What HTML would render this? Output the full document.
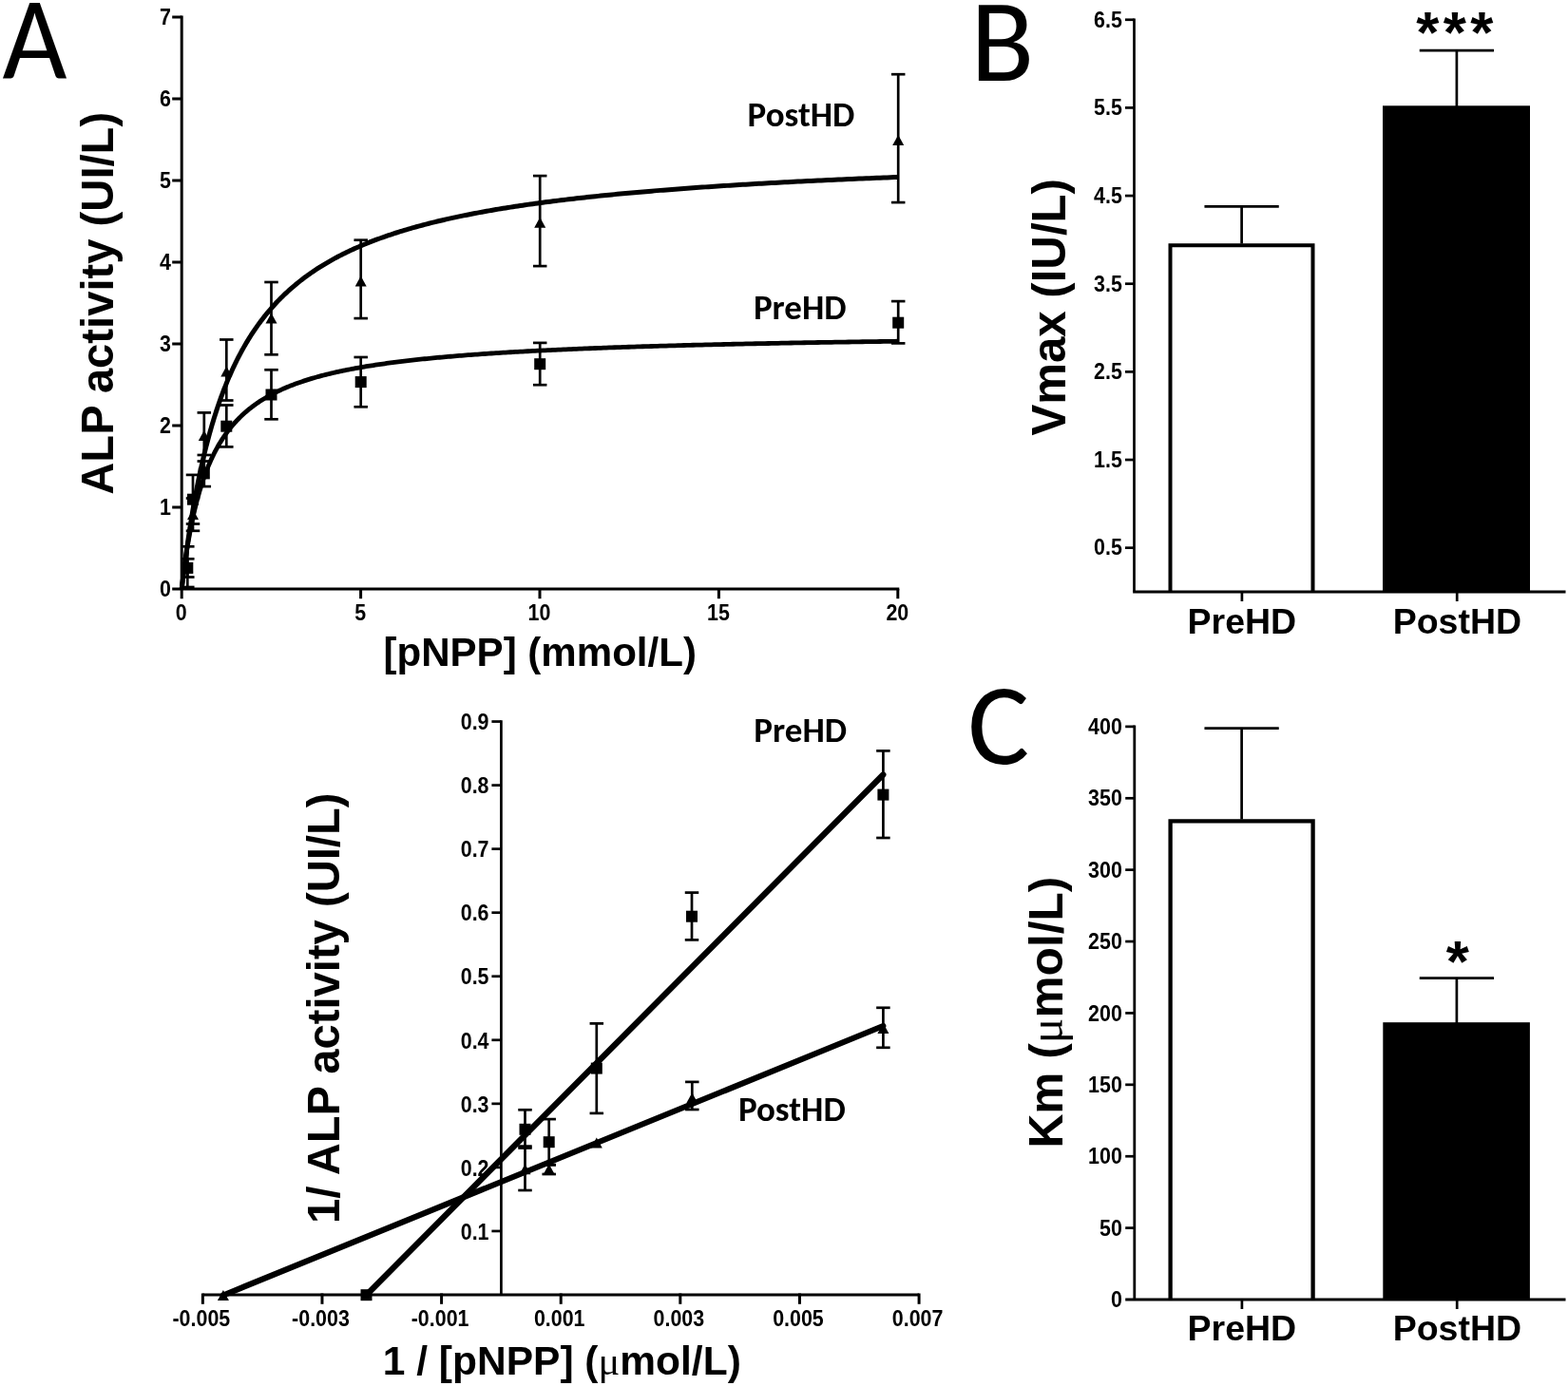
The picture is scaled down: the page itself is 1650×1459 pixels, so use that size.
<!DOCTYPE html>
<html><head><meta charset="utf-8"><title>ALP kinetics figure</title>
<style>html,body{margin:0;padding:0;background:#fff;overflow:hidden;}svg{display:block;}</style></head>
<body><svg width="1650" height="1459" viewBox="0 0 1650 1459">
<rect width="1650" height="1459" fill="#fff"/>
<text transform="translate(2.4,82.6) scale(0.955,1)" font-family="Carlito, Calibri, 'Liberation Sans', sans-serif" font-size="123" textLength="71.18" lengthAdjust="spacingAndGlyphs">A</text>
<text x="1021.20" y="84.60" font-family="Carlito, Calibri, 'Liberation Sans', sans-serif" font-size="123" font-weight="normal" text-anchor="start" textLength="66.91" lengthAdjust="spacingAndGlyphs">B</text>
<text x="1018.30" y="803.60" font-family="Carlito, Calibri, 'Liberation Sans', sans-serif" font-size="122" font-weight="normal" text-anchor="start" textLength="65.06" lengthAdjust="spacingAndGlyphs">C</text>
<line x1="191.20" y1="16.50" x2="191.20" y2="630.20" stroke="#000" stroke-width="3" stroke-linecap="butt"/>
<line x1="181.20" y1="620.00" x2="946.30" y2="620.00" stroke="#000" stroke-width="3" stroke-linecap="butt"/>
<line x1="181.20" y1="534.00" x2="191.20" y2="534.00" stroke="#000" stroke-width="3" stroke-linecap="butt"/>
<line x1="181.20" y1="448.00" x2="191.20" y2="448.00" stroke="#000" stroke-width="3" stroke-linecap="butt"/>
<line x1="181.20" y1="362.00" x2="191.20" y2="362.00" stroke="#000" stroke-width="3" stroke-linecap="butt"/>
<line x1="181.20" y1="276.00" x2="191.20" y2="276.00" stroke="#000" stroke-width="3" stroke-linecap="butt"/>
<line x1="181.20" y1="190.00" x2="191.20" y2="190.00" stroke="#000" stroke-width="3" stroke-linecap="butt"/>
<line x1="181.20" y1="104.00" x2="191.20" y2="104.00" stroke="#000" stroke-width="3" stroke-linecap="butt"/>
<line x1="181.20" y1="18.00" x2="191.20" y2="18.00" stroke="#000" stroke-width="3" stroke-linecap="butt"/>
<line x1="379.60" y1="620.00" x2="379.60" y2="630.20" stroke="#000" stroke-width="3" stroke-linecap="butt"/>
<line x1="568.00" y1="620.00" x2="568.00" y2="630.20" stroke="#000" stroke-width="3" stroke-linecap="butt"/>
<line x1="756.40" y1="620.00" x2="756.40" y2="630.20" stroke="#000" stroke-width="3" stroke-linecap="butt"/>
<line x1="944.80" y1="620.00" x2="944.80" y2="630.20" stroke="#000" stroke-width="3" stroke-linecap="butt"/>
<text transform="translate(180.00,627.70) scale(0.875,1)" font-family="'Liberation Sans', Arial, sans-serif" font-size="24.5" font-weight="bold" text-anchor="end">0</text>
<text transform="translate(180.00,541.70) scale(0.875,1)" font-family="'Liberation Sans', Arial, sans-serif" font-size="24.5" font-weight="bold" text-anchor="end">1</text>
<text transform="translate(180.00,455.70) scale(0.875,1)" font-family="'Liberation Sans', Arial, sans-serif" font-size="24.5" font-weight="bold" text-anchor="end">2</text>
<text transform="translate(180.00,369.70) scale(0.875,1)" font-family="'Liberation Sans', Arial, sans-serif" font-size="24.5" font-weight="bold" text-anchor="end">3</text>
<text transform="translate(180.00,283.70) scale(0.875,1)" font-family="'Liberation Sans', Arial, sans-serif" font-size="24.5" font-weight="bold" text-anchor="end">4</text>
<text transform="translate(180.00,197.70) scale(0.875,1)" font-family="'Liberation Sans', Arial, sans-serif" font-size="24.5" font-weight="bold" text-anchor="end">5</text>
<text transform="translate(180.00,111.70) scale(0.875,1)" font-family="'Liberation Sans', Arial, sans-serif" font-size="24.5" font-weight="bold" text-anchor="end">6</text>
<text transform="translate(180.00,25.70) scale(0.875,1)" font-family="'Liberation Sans', Arial, sans-serif" font-size="24.5" font-weight="bold" text-anchor="end">7</text>
<text transform="translate(190.70,653.00) scale(0.875,1)" font-family="'Liberation Sans', Arial, sans-serif" font-size="24.5" font-weight="bold" text-anchor="middle">0</text>
<text transform="translate(379.10,653.00) scale(0.875,1)" font-family="'Liberation Sans', Arial, sans-serif" font-size="24.5" font-weight="bold" text-anchor="middle">5</text>
<text transform="translate(567.50,653.00) scale(0.875,1)" font-family="'Liberation Sans', Arial, sans-serif" font-size="24.5" font-weight="bold" text-anchor="middle">10</text>
<text transform="translate(755.90,653.00) scale(0.875,1)" font-family="'Liberation Sans', Arial, sans-serif" font-size="24.5" font-weight="bold" text-anchor="middle">15</text>
<text transform="translate(944.30,653.00) scale(0.875,1)" font-family="'Liberation Sans', Arial, sans-serif" font-size="24.5" font-weight="bold" text-anchor="middle">20</text>
<text x="568.20" y="701.20" font-family="'Liberation Sans', Arial, sans-serif" font-size="42.5" font-weight="bold" text-anchor="middle" textLength="329.5" lengthAdjust="spacingAndGlyphs">[pNPP] (mmol/L)</text>
<text transform="translate(118.90,319.30) rotate(-90)" font-family="'Liberation Sans', Arial, sans-serif" font-size="47.2" font-weight="bold" text-anchor="middle">ALP activity (UI/L)</text>
<polyline points="191.20,620.00 191.20,619.96 191.22,619.84 191.24,619.64 191.28,619.35 191.32,618.99 191.37,618.54 191.43,618.02 191.50,617.42 191.58,616.74 191.67,615.98 191.77,615.14 191.88,614.23 192.00,613.25 192.12,612.19 192.26,611.05 192.41,609.85 192.56,608.57 192.73,607.22 192.90,605.81 193.08,604.33 193.28,602.78 193.48,601.17 193.69,599.49 193.91,597.76 194.14,595.97 194.38,594.11 194.63,592.21 194.89,590.24 195.16,588.23 195.44,586.16 195.73,584.04 196.02,581.88 196.33,579.67 196.64,577.42 196.97,575.12 197.30,572.79 197.65,570.41 198.00,568.00 198.36,565.55 198.74,563.07 199.12,560.55 199.51,558.01 199.91,555.44 200.32,552.84 200.74,550.22 201.17,547.57 201.60,544.90 202.05,542.21 202.51,539.50 202.97,536.78 203.45,534.04 203.94,531.29 204.43,528.52 204.93,525.74 205.45,522.95 205.97,520.16 206.50,517.36 207.04,514.55 207.60,511.73 208.16,508.92 208.73,506.10 209.31,503.28 209.89,500.46 210.49,497.64 211.10,494.83 211.72,492.02 212.34,489.21 212.98,486.41 213.62,483.61 214.28,480.82 214.94,478.04 215.62,475.27 216.30,472.50 216.99,469.75 217.69,467.01 218.40,464.28 219.13,461.56 219.86,458.86 220.60,456.16 221.34,453.49 222.10,450.82 222.87,448.17 223.65,445.54 224.43,442.92 225.23,440.32 226.04,437.74 226.85,435.17 227.67,432.62 228.51,430.09 229.35,427.58 230.20,425.08 231.07,422.60 231.94,420.15 232.82,417.71 233.71,415.29 234.61,412.88 235.52,410.50 236.43,408.14 237.36,405.80 238.30,403.48 239.25,401.17 240.20,398.89 241.17,396.63 242.14,394.39 243.13,392.17 244.12,389.97 245.12,387.78 246.14,385.62 247.16,383.48 248.19,381.36 249.23,379.26 250.28,377.18 251.34,375.12 252.41,373.08 253.49,371.07 254.58,369.07 255.68,367.09 256.78,365.13 257.90,363.19 259.02,361.27 260.16,359.36 261.30,357.48 262.46,355.62 263.62,353.78 264.79,351.95 265.98,350.15 267.17,348.36 268.37,346.60 269.58,344.85 270.80,343.12 272.03,341.41 273.27,339.71 274.52,338.04 275.77,336.38 277.04,334.74 278.32,333.12 279.60,331.51 280.90,329.92 282.20,328.35 283.52,326.80 284.84,325.26 286.17,323.74 287.51,322.24 288.87,320.75 290.23,319.28 291.60,317.83 292.98,316.39 294.37,314.96 295.77,313.56 297.17,312.16 298.59,310.79 300.02,309.43 301.46,308.08 302.90,306.75 304.36,305.43 305.82,304.12 307.30,302.84 308.78,301.56 310.27,300.30 311.78,299.05 313.29,297.82 314.81,296.60 316.34,295.39 317.88,294.20 319.43,293.02 320.99,291.85 322.56,290.70 324.14,289.55 325.72,288.42 327.32,287.31 328.93,286.20 330.54,285.11 332.17,284.03 333.80,282.96 335.44,281.90 337.10,280.86 338.76,279.82 340.43,278.80 342.11,277.78 343.80,276.78 345.50,275.79 347.21,274.81 348.93,273.84 350.66,272.88 352.40,271.93 354.15,271.00 355.90,270.07 357.67,269.15 359.45,268.24 361.23,267.34 363.03,266.45 364.83,265.57 366.64,264.70 368.47,263.84 370.30,262.99 372.14,262.14 373.99,261.31 375.85,260.48 377.72,259.67 379.60,258.86 381.49,258.06 383.39,257.27 385.29,256.48 387.21,255.71 389.14,254.94 391.07,254.18 393.02,253.43 394.97,252.69 396.94,251.95 398.91,251.23 400.89,250.51 402.89,249.79 404.89,249.09 406.90,248.39 408.92,247.70 410.95,247.01 412.99,246.33 415.04,245.66 417.10,245.00 419.16,244.34 421.24,243.69 423.33,243.05 425.42,242.41 427.53,241.78 429.64,241.16 431.77,240.54 433.90,239.93 436.04,239.32 438.20,238.72 440.36,238.13 442.53,237.54 444.71,236.96 446.90,236.38 449.10,235.81 451.31,235.24 453.53,234.68 455.76,234.13 457.99,233.58 460.24,233.04 462.50,232.50 464.76,231.96 467.04,231.44 469.32,230.91 471.61,230.40 473.92,229.88 476.23,229.38 478.55,228.87 480.88,228.37 483.22,227.88 485.57,227.39 487.93,226.91 490.30,226.43 492.68,225.95 495.07,225.48 497.47,225.02 499.87,224.55 502.29,224.10 504.72,223.64 507.15,223.19 509.60,222.75 512.05,222.31 514.51,221.87 516.99,221.44 519.47,221.01 521.96,220.59 524.46,220.16 526.97,219.75 529.49,219.33 532.02,218.93 534.56,218.52 537.11,218.12 539.66,217.72 542.23,217.32 544.81,216.93 547.39,216.55 549.99,216.16 552.59,215.78 555.21,215.40 557.83,215.03 560.46,214.66 563.11,214.29 565.76,213.93 568.42,213.56 571.09,213.21 573.77,212.85 576.46,212.50 579.16,212.15 581.87,211.81 584.58,211.46 587.31,211.12 590.05,210.79 592.79,210.45 595.55,210.12 598.31,209.80 601.09,209.47 603.87,209.15 606.66,208.83 609.47,208.51 612.28,208.20 615.10,207.89 617.93,207.58 620.77,207.27 623.62,206.97 626.48,206.67 629.35,206.37 632.23,206.07 635.11,205.78 638.01,205.49 640.92,205.20 643.83,204.91 646.76,204.63 649.69,204.34 652.63,204.07 655.59,203.79 658.55,203.51 661.52,203.24 664.50,202.97 667.49,202.70 670.49,202.44 673.50,202.17 676.52,201.91 679.55,201.65 682.59,201.39 685.64,201.14 688.69,200.88 691.76,200.63 694.84,200.38 697.92,200.14 701.02,199.89 704.12,199.65 707.23,199.41 710.36,199.17 713.49,198.93 716.63,198.69 719.78,198.46 722.94,198.23 726.11,198.00 729.29,197.77 732.48,197.54 735.68,197.32 738.88,197.09 742.10,196.87 745.33,196.65 748.56,196.43 751.81,196.22 755.06,196.00 758.33,195.79 761.60,195.58 764.88,195.37 768.17,195.16 771.48,194.95 774.79,194.75 778.11,194.54 781.44,194.34 784.78,194.14 788.13,193.94 791.48,193.74 794.85,193.55 798.23,193.35 801.62,193.16 805.01,192.97 808.42,192.78 811.83,192.59 815.26,192.40 818.69,192.21 822.13,192.03 825.59,191.84 829.05,191.66 832.52,191.48 836.00,191.30 839.49,191.12 842.99,190.95 846.50,190.77 850.02,190.60 853.54,190.42 857.08,190.25 860.63,190.08 864.18,189.91 867.75,189.74 871.32,189.58 874.91,189.41 878.50,189.25 882.11,189.08 885.72,188.92 889.34,188.76 892.97,188.60 896.61,188.44 900.26,188.28 903.92,188.12 907.59,187.97 911.27,187.81 914.96,187.66 918.65,187.51 922.36,187.36 926.08,187.21 929.80,187.06 933.54,186.91 937.28,186.76 941.04,186.61 944.80,186.47" fill="none" stroke="#000" stroke-width="5.0" stroke-linejoin="round"/>
<polyline points="191.20,620.00 191.20,619.96 191.22,619.83 191.24,619.63 191.28,619.34 191.32,618.97 191.37,618.51 191.43,617.98 191.50,617.37 191.58,616.68 191.67,615.91 191.77,615.07 191.88,614.15 192.00,613.16 192.12,612.10 192.26,610.97 192.41,609.77 192.56,608.51 192.73,607.18 192.90,605.79 193.08,604.35 193.28,602.84 193.48,601.29 193.69,599.68 193.91,598.02 194.14,596.31 194.38,594.56 194.63,592.77 194.89,590.93 195.16,589.06 195.44,587.15 195.73,585.21 196.02,583.24 196.33,581.24 196.64,579.21 196.97,577.16 197.30,575.09 197.65,573.00 198.00,570.89 198.36,568.76 198.74,566.62 199.12,564.47 199.51,562.32 199.91,560.15 200.32,557.98 200.74,555.80 201.17,553.62 201.60,551.44 202.05,549.26 202.51,547.08 202.97,544.91 203.45,542.74 203.94,540.57 204.43,538.42 204.93,536.27 205.45,534.13 205.97,532.00 206.50,529.88 207.04,527.77 207.60,525.68 208.16,523.60 208.73,521.54 209.31,519.49 209.89,517.45 210.49,515.44 211.10,513.44 211.72,511.45 212.34,509.49 212.98,507.54 213.62,505.61 214.28,503.71 214.94,501.82 215.62,499.95 216.30,498.10 216.99,496.27 217.69,494.46 218.40,492.67 219.13,490.90 219.86,489.15 220.60,487.43 221.34,485.72 222.10,484.03 222.87,482.37 223.65,480.72 224.43,479.10 225.23,477.50 226.04,475.91 226.85,474.35 227.67,472.81 228.51,471.29 229.35,469.79 230.20,468.31 231.07,466.85 231.94,465.41 232.82,463.99 233.71,462.59 234.61,461.20 235.52,459.84 236.43,458.50 237.36,457.17 238.30,455.86 239.25,454.58 240.20,453.31 241.17,452.05 242.14,450.82 243.13,449.60 244.12,448.40 245.12,447.22 246.14,446.06 247.16,444.91 248.19,443.77 249.23,442.66 250.28,441.56 251.34,440.48 252.41,439.41 253.49,438.36 254.58,437.32 255.68,436.30 256.78,435.29 257.90,434.30 259.02,433.32 260.16,432.35 261.30,431.40 262.46,430.47 263.62,429.54 264.79,428.63 265.98,427.74 267.17,426.85 268.37,425.98 269.58,425.12 270.80,424.28 272.03,423.44 273.27,422.62 274.52,421.81 275.77,421.01 277.04,420.23 278.32,419.45 279.60,418.69 280.90,417.93 282.20,417.19 283.52,416.46 284.84,415.74 286.17,415.03 287.51,414.32 288.87,413.63 290.23,412.95 291.60,412.28 292.98,411.61 294.37,410.96 295.77,410.32 297.17,409.68 298.59,409.05 300.02,408.43 301.46,407.83 302.90,407.22 304.36,406.63 305.82,406.05 307.30,405.47 308.78,404.90 310.27,404.34 311.78,403.79 313.29,403.24 314.81,402.70 316.34,402.17 317.88,401.65 319.43,401.13 320.99,400.62 322.56,400.12 324.14,399.62 325.72,399.13 327.32,398.65 328.93,398.17 330.54,397.70 332.17,397.23 333.80,396.77 335.44,396.32 337.10,395.87 338.76,395.43 340.43,395.00 342.11,394.57 343.80,394.15 345.50,393.73 347.21,393.31 348.93,392.91 350.66,392.50 352.40,392.11 354.15,391.71 355.90,391.33 357.67,390.94 359.45,390.56 361.23,390.19 363.03,389.82 364.83,389.46 366.64,389.10 368.47,388.74 370.30,388.39 372.14,388.05 373.99,387.71 375.85,387.37 377.72,387.03 379.60,386.70 381.49,386.38 383.39,386.06 385.29,385.74 387.21,385.43 389.14,385.11 391.07,384.81 393.02,384.51 394.97,384.21 396.94,383.91 398.91,383.62 400.89,383.33 402.89,383.04 404.89,382.76 406.90,382.48 408.92,382.21 410.95,381.93 412.99,381.67 415.04,381.40 417.10,381.14 419.16,380.88 421.24,380.62 423.33,380.36 425.42,380.11 427.53,379.86 429.64,379.62 431.77,379.38 433.90,379.14 436.04,378.90 438.20,378.66 440.36,378.43 442.53,378.20 444.71,377.97 446.90,377.75 449.10,377.53 451.31,377.31 453.53,377.09 455.76,376.87 457.99,376.66 460.24,376.45 462.50,376.24 464.76,376.04 467.04,375.83 469.32,375.63 471.61,375.43 473.92,375.24 476.23,375.04 478.55,374.85 480.88,374.66 483.22,374.47 485.57,374.28 487.93,374.10 490.30,373.91 492.68,373.73 495.07,373.55 497.47,373.37 499.87,373.20 502.29,373.02 504.72,372.85 507.15,372.68 509.60,372.51 512.05,372.35 514.51,372.18 516.99,372.02 519.47,371.85 521.96,371.69 524.46,371.54 526.97,371.38 529.49,371.22 532.02,371.07 534.56,370.92 537.11,370.77 539.66,370.62 542.23,370.47 544.81,370.32 547.39,370.18 549.99,370.03 552.59,369.89 555.21,369.75 557.83,369.61 560.46,369.47 563.11,369.33 565.76,369.20 568.42,369.06 571.09,368.93 573.77,368.80 576.46,368.67 579.16,368.54 581.87,368.41 584.58,368.28 587.31,368.16 590.05,368.03 592.79,367.91 595.55,367.79 598.31,367.66 601.09,367.54 603.87,367.43 606.66,367.31 609.47,367.19 612.28,367.08 615.10,366.96 617.93,366.85 620.77,366.73 623.62,366.62 626.48,366.51 629.35,366.40 632.23,366.29 635.11,366.19 638.01,366.08 640.92,365.97 643.83,365.87 646.76,365.76 649.69,365.66 652.63,365.56 655.59,365.46 658.55,365.36 661.52,365.26 664.50,365.16 667.49,365.06 670.49,364.96 673.50,364.87 676.52,364.77 679.55,364.68 682.59,364.59 685.64,364.49 688.69,364.40 691.76,364.31 694.84,364.22 697.92,364.13 701.02,364.04 704.12,363.95 707.23,363.86 710.36,363.78 713.49,363.69 716.63,363.61 719.78,363.52 722.94,363.44 726.11,363.35 729.29,363.27 732.48,363.19 735.68,363.11 738.88,363.03 742.10,362.95 745.33,362.87 748.56,362.79 751.81,362.71 755.06,362.64 758.33,362.56 761.60,362.48 764.88,362.41 768.17,362.33 771.48,362.26 774.79,362.18 778.11,362.11 781.44,362.04 784.78,361.97 788.13,361.89 791.48,361.82 794.85,361.75 798.23,361.68 801.62,361.61 805.01,361.55 808.42,361.48 811.83,361.41 815.26,361.34 818.69,361.28 822.13,361.21 825.59,361.15 829.05,361.08 832.52,361.02 836.00,360.95 839.49,360.89 842.99,360.83 846.50,360.76 850.02,360.70 853.54,360.64 857.08,360.58 860.63,360.52 864.18,360.46 867.75,360.40 871.32,360.34 874.91,360.28 878.50,360.22 882.11,360.16 885.72,360.10 889.34,360.05 892.97,359.99 896.61,359.93 900.26,359.88 903.92,359.82 907.59,359.77 911.27,359.71 914.96,359.66 918.65,359.60 922.36,359.55 926.08,359.50 929.80,359.44 933.54,359.39 937.28,359.34 941.04,359.29 944.80,359.24" fill="none" stroke="#000" stroke-width="4.8" stroke-linejoin="round"/>
<line x1="197.30" y1="575.30" x2="197.30" y2="618.00" stroke="#000" stroke-width="2.7" stroke-linecap="butt"/>
<line x1="190.05" y1="575.30" x2="204.55" y2="575.30" stroke="#000" stroke-width="2.7" stroke-linecap="butt"/>
<line x1="190.05" y1="618.00" x2="204.55" y2="618.00" stroke="#000" stroke-width="2.7" stroke-linecap="butt"/>
<line x1="203.00" y1="524.50" x2="203.00" y2="558.80" stroke="#000" stroke-width="2.7" stroke-linecap="butt"/>
<line x1="195.75" y1="524.50" x2="210.25" y2="524.50" stroke="#000" stroke-width="2.7" stroke-linecap="butt"/>
<line x1="195.75" y1="558.80" x2="210.25" y2="558.80" stroke="#000" stroke-width="2.7" stroke-linecap="butt"/>
<line x1="214.80" y1="434.40" x2="214.80" y2="485.50" stroke="#000" stroke-width="2.7" stroke-linecap="butt"/>
<line x1="207.55" y1="434.40" x2="222.05" y2="434.40" stroke="#000" stroke-width="2.7" stroke-linecap="butt"/>
<line x1="207.55" y1="485.50" x2="222.05" y2="485.50" stroke="#000" stroke-width="2.7" stroke-linecap="butt"/>
<line x1="238.30" y1="357.50" x2="238.30" y2="421.50" stroke="#000" stroke-width="2.7" stroke-linecap="butt"/>
<line x1="231.05" y1="357.50" x2="245.55" y2="357.50" stroke="#000" stroke-width="2.7" stroke-linecap="butt"/>
<line x1="231.05" y1="421.50" x2="245.55" y2="421.50" stroke="#000" stroke-width="2.7" stroke-linecap="butt"/>
<line x1="285.50" y1="297.00" x2="285.50" y2="373.30" stroke="#000" stroke-width="2.7" stroke-linecap="butt"/>
<line x1="278.25" y1="297.00" x2="292.75" y2="297.00" stroke="#000" stroke-width="2.7" stroke-linecap="butt"/>
<line x1="278.25" y1="373.30" x2="292.75" y2="373.30" stroke="#000" stroke-width="2.7" stroke-linecap="butt"/>
<line x1="379.70" y1="252.70" x2="379.70" y2="335.10" stroke="#000" stroke-width="2.7" stroke-linecap="butt"/>
<line x1="372.45" y1="252.70" x2="386.95" y2="252.70" stroke="#000" stroke-width="2.7" stroke-linecap="butt"/>
<line x1="372.45" y1="335.10" x2="386.95" y2="335.10" stroke="#000" stroke-width="2.7" stroke-linecap="butt"/>
<line x1="568.20" y1="185.10" x2="568.20" y2="280.10" stroke="#000" stroke-width="2.7" stroke-linecap="butt"/>
<line x1="560.95" y1="185.10" x2="575.45" y2="185.10" stroke="#000" stroke-width="2.7" stroke-linecap="butt"/>
<line x1="560.95" y1="280.10" x2="575.45" y2="280.10" stroke="#000" stroke-width="2.7" stroke-linecap="butt"/>
<line x1="945.20" y1="78.20" x2="945.20" y2="213.10" stroke="#000" stroke-width="2.7" stroke-linecap="butt"/>
<line x1="937.95" y1="78.20" x2="952.45" y2="78.20" stroke="#000" stroke-width="2.7" stroke-linecap="butt"/>
<line x1="937.95" y1="213.10" x2="952.45" y2="213.10" stroke="#000" stroke-width="2.7" stroke-linecap="butt"/>
<line x1="197.30" y1="588.30" x2="197.30" y2="607.50" stroke="#000" stroke-width="2.7" stroke-linecap="butt"/>
<line x1="190.05" y1="588.30" x2="204.55" y2="588.30" stroke="#000" stroke-width="2.7" stroke-linecap="butt"/>
<line x1="190.05" y1="607.50" x2="204.55" y2="607.50" stroke="#000" stroke-width="2.7" stroke-linecap="butt"/>
<line x1="203.00" y1="499.90" x2="203.00" y2="551.50" stroke="#000" stroke-width="2.7" stroke-linecap="butt"/>
<line x1="195.75" y1="499.90" x2="210.25" y2="499.90" stroke="#000" stroke-width="2.7" stroke-linecap="butt"/>
<line x1="195.75" y1="551.50" x2="210.25" y2="551.50" stroke="#000" stroke-width="2.7" stroke-linecap="butt"/>
<line x1="214.80" y1="479.00" x2="214.80" y2="512.10" stroke="#000" stroke-width="2.7" stroke-linecap="butt"/>
<line x1="207.55" y1="479.00" x2="222.05" y2="479.00" stroke="#000" stroke-width="2.7" stroke-linecap="butt"/>
<line x1="207.55" y1="512.10" x2="222.05" y2="512.10" stroke="#000" stroke-width="2.7" stroke-linecap="butt"/>
<line x1="238.30" y1="426.50" x2="238.30" y2="470.40" stroke="#000" stroke-width="2.7" stroke-linecap="butt"/>
<line x1="231.05" y1="426.50" x2="245.55" y2="426.50" stroke="#000" stroke-width="2.7" stroke-linecap="butt"/>
<line x1="231.05" y1="470.40" x2="245.55" y2="470.40" stroke="#000" stroke-width="2.7" stroke-linecap="butt"/>
<line x1="285.50" y1="389.30" x2="285.50" y2="441.30" stroke="#000" stroke-width="2.7" stroke-linecap="butt"/>
<line x1="278.25" y1="389.30" x2="292.75" y2="389.30" stroke="#000" stroke-width="2.7" stroke-linecap="butt"/>
<line x1="278.25" y1="441.30" x2="292.75" y2="441.30" stroke="#000" stroke-width="2.7" stroke-linecap="butt"/>
<line x1="379.70" y1="376.00" x2="379.70" y2="428.30" stroke="#000" stroke-width="2.7" stroke-linecap="butt"/>
<line x1="372.45" y1="376.00" x2="386.95" y2="376.00" stroke="#000" stroke-width="2.7" stroke-linecap="butt"/>
<line x1="372.45" y1="428.30" x2="386.95" y2="428.30" stroke="#000" stroke-width="2.7" stroke-linecap="butt"/>
<line x1="568.20" y1="360.90" x2="568.20" y2="405.20" stroke="#000" stroke-width="2.7" stroke-linecap="butt"/>
<line x1="560.95" y1="360.90" x2="575.45" y2="360.90" stroke="#000" stroke-width="2.7" stroke-linecap="butt"/>
<line x1="560.95" y1="405.20" x2="575.45" y2="405.20" stroke="#000" stroke-width="2.7" stroke-linecap="butt"/>
<line x1="945.20" y1="317.10" x2="945.20" y2="361.40" stroke="#000" stroke-width="2.7" stroke-linecap="butt"/>
<line x1="937.95" y1="317.10" x2="952.45" y2="317.10" stroke="#000" stroke-width="2.7" stroke-linecap="butt"/>
<line x1="937.95" y1="361.40" x2="952.45" y2="361.40" stroke="#000" stroke-width="2.7" stroke-linecap="butt"/>
<polygon points="191.30,602.20 203.30,602.20 197.30,591.20" fill="#000"/>
<polygon points="197.00,547.00 209.00,547.00 203.00,536.00" fill="#000"/>
<polygon points="208.80,464.00 220.80,464.00 214.80,453.00" fill="#000"/>
<polygon points="232.30,396.50 244.30,396.50 238.30,385.50" fill="#000"/>
<polygon points="279.50,340.60 291.50,340.60 285.50,329.60" fill="#000"/>
<polygon points="373.70,301.50 385.70,301.50 379.70,290.50" fill="#000"/>
<polygon points="562.20,239.70 574.20,239.70 568.20,228.70" fill="#000"/>
<polygon points="939.20,152.90 951.20,152.90 945.20,141.90" fill="#000"/>
<rect x="191.30" y="591.90" width="12.00" height="12.00" fill="#000"/>
<rect x="197.00" y="519.70" width="12.00" height="12.00" fill="#000"/>
<rect x="208.80" y="492.40" width="12.00" height="12.00" fill="#000"/>
<rect x="232.30" y="442.70" width="12.00" height="12.00" fill="#000"/>
<rect x="279.50" y="409.50" width="12.00" height="12.00" fill="#000"/>
<rect x="373.70" y="396.10" width="12.00" height="12.00" fill="#000"/>
<rect x="562.20" y="377.20" width="12.00" height="12.00" fill="#000"/>
<rect x="939.20" y="333.70" width="12.00" height="12.00" fill="#000"/>
<text x="843.00" y="133.00" font-family="Carlito, Calibri, 'Liberation Sans', sans-serif" font-size="37" font-weight="bold" text-anchor="middle" textLength="112.83" lengthAdjust="spacingAndGlyphs">PostHD</text>
<text x="841.80" y="335.90" font-family="Carlito, Calibri, 'Liberation Sans', sans-serif" font-size="37" font-weight="bold" text-anchor="middle" textLength="97.73" lengthAdjust="spacingAndGlyphs">PreHD</text>
<line x1="527.40" y1="758.20" x2="527.40" y2="1363.00" stroke="#000" stroke-width="2.7" stroke-linecap="butt"/>
<line x1="213.35" y1="1363.00" x2="967.07" y2="1363.00" stroke="#000" stroke-width="3" stroke-linecap="butt"/>
<line x1="517.40" y1="1295.95" x2="527.40" y2="1295.95" stroke="#000" stroke-width="2.7" stroke-linecap="butt"/>
<text transform="translate(514.50,1304.65) scale(0.875,1)" font-family="'Liberation Sans', Arial, sans-serif" font-size="24.5" font-weight="bold" text-anchor="end">0.1</text>
<line x1="517.40" y1="1228.90" x2="527.40" y2="1228.90" stroke="#000" stroke-width="2.7" stroke-linecap="butt"/>
<text transform="translate(514.50,1237.60) scale(0.875,1)" font-family="'Liberation Sans', Arial, sans-serif" font-size="24.5" font-weight="bold" text-anchor="end">0.2</text>
<line x1="517.40" y1="1161.85" x2="527.40" y2="1161.85" stroke="#000" stroke-width="2.7" stroke-linecap="butt"/>
<text transform="translate(514.50,1170.55) scale(0.875,1)" font-family="'Liberation Sans', Arial, sans-serif" font-size="24.5" font-weight="bold" text-anchor="end">0.3</text>
<line x1="517.40" y1="1094.80" x2="527.40" y2="1094.80" stroke="#000" stroke-width="2.7" stroke-linecap="butt"/>
<text transform="translate(514.50,1103.50) scale(0.875,1)" font-family="'Liberation Sans', Arial, sans-serif" font-size="24.5" font-weight="bold" text-anchor="end">0.4</text>
<line x1="517.40" y1="1027.75" x2="527.40" y2="1027.75" stroke="#000" stroke-width="2.7" stroke-linecap="butt"/>
<text transform="translate(514.50,1036.45) scale(0.875,1)" font-family="'Liberation Sans', Arial, sans-serif" font-size="24.5" font-weight="bold" text-anchor="end">0.5</text>
<line x1="517.40" y1="960.70" x2="527.40" y2="960.70" stroke="#000" stroke-width="2.7" stroke-linecap="butt"/>
<text transform="translate(514.50,969.40) scale(0.875,1)" font-family="'Liberation Sans', Arial, sans-serif" font-size="24.5" font-weight="bold" text-anchor="end">0.6</text>
<line x1="517.40" y1="893.65" x2="527.40" y2="893.65" stroke="#000" stroke-width="2.7" stroke-linecap="butt"/>
<text transform="translate(514.50,902.35) scale(0.875,1)" font-family="'Liberation Sans', Arial, sans-serif" font-size="24.5" font-weight="bold" text-anchor="end">0.7</text>
<line x1="517.40" y1="826.60" x2="527.40" y2="826.60" stroke="#000" stroke-width="2.7" stroke-linecap="butt"/>
<text transform="translate(514.50,835.30) scale(0.875,1)" font-family="'Liberation Sans', Arial, sans-serif" font-size="24.5" font-weight="bold" text-anchor="end">0.8</text>
<line x1="517.40" y1="759.55" x2="527.40" y2="759.55" stroke="#000" stroke-width="2.7" stroke-linecap="butt"/>
<text transform="translate(514.50,768.25) scale(0.875,1)" font-family="'Liberation Sans', Arial, sans-serif" font-size="24.5" font-weight="bold" text-anchor="end">0.9</text>
<line x1="213.35" y1="1361.50" x2="213.35" y2="1372.80" stroke="#000" stroke-width="3" stroke-linecap="butt"/>
<text transform="translate(211.85,1396.00) scale(0.875,1)" font-family="'Liberation Sans', Arial, sans-serif" font-size="24.5" font-weight="bold" text-anchor="middle">-0.005</text>
<line x1="338.97" y1="1361.50" x2="338.97" y2="1372.80" stroke="#000" stroke-width="3" stroke-linecap="butt"/>
<text transform="translate(337.47,1396.00) scale(0.875,1)" font-family="'Liberation Sans', Arial, sans-serif" font-size="24.5" font-weight="bold" text-anchor="middle">-0.003</text>
<line x1="464.59" y1="1361.50" x2="464.59" y2="1372.80" stroke="#000" stroke-width="3" stroke-linecap="butt"/>
<text transform="translate(463.09,1396.00) scale(0.875,1)" font-family="'Liberation Sans', Arial, sans-serif" font-size="24.5" font-weight="bold" text-anchor="middle">-0.001</text>
<line x1="590.21" y1="1361.50" x2="590.21" y2="1372.80" stroke="#000" stroke-width="3" stroke-linecap="butt"/>
<text transform="translate(588.71,1396.00) scale(0.875,1)" font-family="'Liberation Sans', Arial, sans-serif" font-size="24.5" font-weight="bold" text-anchor="middle">0.001</text>
<line x1="715.83" y1="1361.50" x2="715.83" y2="1372.80" stroke="#000" stroke-width="3" stroke-linecap="butt"/>
<text transform="translate(714.33,1396.00) scale(0.875,1)" font-family="'Liberation Sans', Arial, sans-serif" font-size="24.5" font-weight="bold" text-anchor="middle">0.003</text>
<line x1="841.45" y1="1361.50" x2="841.45" y2="1372.80" stroke="#000" stroke-width="3" stroke-linecap="butt"/>
<text transform="translate(839.95,1396.00) scale(0.875,1)" font-family="'Liberation Sans', Arial, sans-serif" font-size="24.5" font-weight="bold" text-anchor="middle">0.005</text>
<line x1="967.07" y1="1361.50" x2="967.07" y2="1372.80" stroke="#000" stroke-width="3" stroke-linecap="butt"/>
<text transform="translate(965.57,1396.00) scale(0.875,1)" font-family="'Liberation Sans', Arial, sans-serif" font-size="24.5" font-weight="bold" text-anchor="middle">0.007</text>
<text x="591.3" y="1447.1" font-family="'Liberation Sans', Arial, sans-serif" font-size="43" font-weight="bold" text-anchor="middle" textLength="377" lengthAdjust="spacingAndGlyphs">1 / [pNPP] (<tspan font-family="'Liberation Serif', 'Times New Roman', serif" font-weight="normal">μ</tspan>mol/L)</text>
<text transform="translate(356.50,1061.30) rotate(-90)" font-family="'Liberation Sans', Arial, sans-serif" font-size="47.3" font-weight="bold" text-anchor="middle" textLength="453.5" lengthAdjust="spacingAndGlyphs">1/ ALP activity (UI/L)</text>
<line x1="385.50" y1="1363.20" x2="929.30" y2="815.50" stroke="#000" stroke-width="6.3" stroke-linecap="round"/>
<line x1="234.90" y1="1363.50" x2="929.30" y2="1080.00" stroke="#000" stroke-width="6.2" stroke-linecap="round"/>
<line x1="552.50" y1="1208.50" x2="552.50" y2="1253.00" stroke="#000" stroke-width="2.7" stroke-linecap="butt"/>
<line x1="545.25" y1="1208.50" x2="559.75" y2="1208.50" stroke="#000" stroke-width="2.7" stroke-linecap="butt"/>
<line x1="545.25" y1="1253.00" x2="559.75" y2="1253.00" stroke="#000" stroke-width="2.7" stroke-linecap="butt"/>
<line x1="577.70" y1="1226.20" x2="577.70" y2="1236.00" stroke="#000" stroke-width="2.7" stroke-linecap="butt"/>
<line x1="570.45" y1="1226.20" x2="584.95" y2="1226.20" stroke="#000" stroke-width="2.7" stroke-linecap="butt"/>
<line x1="570.45" y1="1236.00" x2="584.95" y2="1236.00" stroke="#000" stroke-width="2.7" stroke-linecap="butt"/>
<line x1="728.30" y1="1138.90" x2="728.30" y2="1168.00" stroke="#000" stroke-width="2.7" stroke-linecap="butt"/>
<line x1="721.05" y1="1138.90" x2="735.55" y2="1138.90" stroke="#000" stroke-width="2.7" stroke-linecap="butt"/>
<line x1="721.05" y1="1168.00" x2="735.55" y2="1168.00" stroke="#000" stroke-width="2.7" stroke-linecap="butt"/>
<line x1="929.40" y1="1060.80" x2="929.40" y2="1102.80" stroke="#000" stroke-width="2.7" stroke-linecap="butt"/>
<line x1="922.15" y1="1060.80" x2="936.65" y2="1060.80" stroke="#000" stroke-width="2.7" stroke-linecap="butt"/>
<line x1="922.15" y1="1102.80" x2="936.65" y2="1102.80" stroke="#000" stroke-width="2.7" stroke-linecap="butt"/>
<line x1="552.50" y1="1168.30" x2="552.50" y2="1206.60" stroke="#000" stroke-width="2.7" stroke-linecap="butt"/>
<line x1="545.25" y1="1168.30" x2="559.75" y2="1168.30" stroke="#000" stroke-width="2.7" stroke-linecap="butt"/>
<line x1="545.25" y1="1206.60" x2="559.75" y2="1206.60" stroke="#000" stroke-width="2.7" stroke-linecap="butt"/>
<line x1="577.70" y1="1178.10" x2="577.70" y2="1226.20" stroke="#000" stroke-width="2.7" stroke-linecap="butt"/>
<line x1="570.45" y1="1178.10" x2="584.95" y2="1178.10" stroke="#000" stroke-width="2.7" stroke-linecap="butt"/>
<line x1="570.45" y1="1226.20" x2="584.95" y2="1226.20" stroke="#000" stroke-width="2.7" stroke-linecap="butt"/>
<line x1="627.80" y1="1077.40" x2="627.80" y2="1171.90" stroke="#000" stroke-width="2.7" stroke-linecap="butt"/>
<line x1="620.55" y1="1077.40" x2="635.05" y2="1077.40" stroke="#000" stroke-width="2.7" stroke-linecap="butt"/>
<line x1="620.55" y1="1171.90" x2="635.05" y2="1171.90" stroke="#000" stroke-width="2.7" stroke-linecap="butt"/>
<line x1="728.00" y1="939.60" x2="728.00" y2="989.40" stroke="#000" stroke-width="2.7" stroke-linecap="butt"/>
<line x1="720.75" y1="939.60" x2="735.25" y2="939.60" stroke="#000" stroke-width="2.7" stroke-linecap="butt"/>
<line x1="720.75" y1="989.40" x2="735.25" y2="989.40" stroke="#000" stroke-width="2.7" stroke-linecap="butt"/>
<line x1="929.40" y1="790.40" x2="929.40" y2="882.00" stroke="#000" stroke-width="2.7" stroke-linecap="butt"/>
<line x1="922.15" y1="790.40" x2="936.65" y2="790.40" stroke="#000" stroke-width="2.7" stroke-linecap="butt"/>
<line x1="922.15" y1="882.00" x2="936.65" y2="882.00" stroke="#000" stroke-width="2.7" stroke-linecap="butt"/>
<polygon points="546.50,1236.20 558.50,1236.20 552.50,1225.20" fill="#000"/>
<polygon points="571.70,1236.30 583.70,1236.30 577.70,1225.30" fill="#000"/>
<polygon points="621.80,1208.50 633.80,1208.50 627.80,1197.50" fill="#000"/>
<polygon points="722.30,1161.30 734.30,1161.30 728.30,1150.30" fill="#000"/>
<polygon points="923.40,1088.00 935.40,1088.00 929.40,1077.00" fill="#000"/>
<polygon points="228.90,1369.10 240.90,1369.10 234.90,1358.10" fill="#000"/>
<rect x="546.50" y="1182.80" width="12.00" height="12.00" fill="#000"/>
<rect x="571.70" y="1196.20" width="12.00" height="12.00" fill="#000"/>
<rect x="621.80" y="1118.60" width="12.00" height="12.00" fill="#000"/>
<rect x="722.00" y="958.70" width="12.00" height="12.00" fill="#000"/>
<rect x="923.40" y="830.60" width="12.00" height="12.00" fill="#000"/>
<rect x="379.50" y="1357.20" width="12.00" height="12.00" fill="#000"/>
<text x="842.20" y="781.10" font-family="Carlito, Calibri, 'Liberation Sans', sans-serif" font-size="37" font-weight="bold" text-anchor="middle" textLength="97.73" lengthAdjust="spacingAndGlyphs">PreHD</text>
<text x="833.30" y="1179.50" font-family="Carlito, Calibri, 'Liberation Sans', sans-serif" font-size="37" font-weight="bold" text-anchor="middle" textLength="112.83" lengthAdjust="spacingAndGlyphs">PostHD</text>
<line x1="1193.50" y1="19.42" x2="1193.50" y2="623.00" stroke="#000" stroke-width="2.7" stroke-linecap="butt"/>
<line x1="1192.15" y1="623.00" x2="1647.50" y2="623.00" stroke="#000" stroke-width="3" stroke-linecap="butt"/>
<line x1="1184.00" y1="576.67" x2="1193.50" y2="576.67" stroke="#000" stroke-width="2.7" stroke-linecap="butt"/>
<text transform="translate(1180.80,584.47) scale(0.875,1)" font-family="'Liberation Sans', Arial, sans-serif" font-size="24.5" font-weight="bold" text-anchor="end">0.5</text>
<line x1="1184.00" y1="484.02" x2="1193.50" y2="484.02" stroke="#000" stroke-width="2.7" stroke-linecap="butt"/>
<text transform="translate(1180.80,491.82) scale(0.875,1)" font-family="'Liberation Sans', Arial, sans-serif" font-size="24.5" font-weight="bold" text-anchor="end">1.5</text>
<line x1="1184.00" y1="391.38" x2="1193.50" y2="391.38" stroke="#000" stroke-width="2.7" stroke-linecap="butt"/>
<text transform="translate(1180.80,399.18) scale(0.875,1)" font-family="'Liberation Sans', Arial, sans-serif" font-size="24.5" font-weight="bold" text-anchor="end">2.5</text>
<line x1="1184.00" y1="298.72" x2="1193.50" y2="298.72" stroke="#000" stroke-width="2.7" stroke-linecap="butt"/>
<text transform="translate(1180.80,306.52) scale(0.875,1)" font-family="'Liberation Sans', Arial, sans-serif" font-size="24.5" font-weight="bold" text-anchor="end">3.5</text>
<line x1="1184.00" y1="206.07" x2="1193.50" y2="206.07" stroke="#000" stroke-width="2.7" stroke-linecap="butt"/>
<text transform="translate(1180.80,213.88) scale(0.875,1)" font-family="'Liberation Sans', Arial, sans-serif" font-size="24.5" font-weight="bold" text-anchor="end">4.5</text>
<line x1="1184.00" y1="113.42" x2="1193.50" y2="113.42" stroke="#000" stroke-width="2.7" stroke-linecap="butt"/>
<text transform="translate(1180.80,121.22) scale(0.875,1)" font-family="'Liberation Sans', Arial, sans-serif" font-size="24.5" font-weight="bold" text-anchor="end">5.5</text>
<line x1="1184.00" y1="20.77" x2="1193.50" y2="20.77" stroke="#000" stroke-width="2.7" stroke-linecap="butt"/>
<text transform="translate(1180.80,28.57) scale(0.875,1)" font-family="'Liberation Sans', Arial, sans-serif" font-size="24.5" font-weight="bold" text-anchor="end">6.5</text>
<line x1="1306.90" y1="623.00" x2="1306.90" y2="633.00" stroke="#000" stroke-width="2.7" stroke-linecap="butt"/>
<line x1="1533.20" y1="623.00" x2="1533.20" y2="633.00" stroke="#000" stroke-width="2.7" stroke-linecap="butt"/>
<path d="M1231.5,623.00 V258.3 H1381.5 V623.00" fill="none" stroke="#000" stroke-width="4" stroke-linejoin="miter"/>
<rect x="1455.00" y="111.30" width="155.00" height="511.70" fill="#000"/>
<line x1="1267.45" y1="217.30" x2="1345.75" y2="217.30" stroke="#000" stroke-width="2.7" stroke-linecap="butt"/>
<line x1="1306.60" y1="217.30" x2="1306.60" y2="256.50" stroke="#000" stroke-width="2.7" stroke-linecap="butt"/>
<line x1="1493.75" y1="53.20" x2="1572.05" y2="53.20" stroke="#000" stroke-width="2.7" stroke-linecap="butt"/>
<line x1="1532.90" y1="53.20" x2="1532.90" y2="112.00" stroke="#000" stroke-width="2.7" stroke-linecap="butt"/>
<text x="1306.90" y="667.00" font-family="'Liberation Sans', Arial, sans-serif" font-size="37.5" font-weight="bold" text-anchor="middle" >PreHD</text>
<text x="1533.40" y="667.00" font-family="'Liberation Sans', Arial, sans-serif" font-size="37.5" font-weight="bold" text-anchor="middle" >PostHD</text>
<text transform="translate(1120.60,323.30) rotate(-90)" font-family="'Liberation Sans', Arial, sans-serif" font-size="49.2" font-weight="bold" text-anchor="middle">Vmax (IU/L)</text>
<text x="1502.20" y="55.00" font-family="'Liberation Sans', Arial, sans-serif" font-size="62" font-weight="bold" text-anchor="middle" >*</text>
<text x="1530.80" y="55.00" font-family="'Liberation Sans', Arial, sans-serif" font-size="62" font-weight="bold" text-anchor="middle" >*</text>
<text x="1559.40" y="55.00" font-family="'Liberation Sans', Arial, sans-serif" font-size="62" font-weight="bold" text-anchor="middle" >*</text>
<line x1="1193.80" y1="763.53" x2="1193.80" y2="1368.00" stroke="#000" stroke-width="2.8" stroke-linecap="butt"/>
<line x1="1184.20" y1="1368.00" x2="1647.50" y2="1368.00" stroke="#000" stroke-width="3.2" stroke-linecap="butt"/>
<text transform="translate(1180.80,1376.10) scale(0.875,1)" font-family="'Liberation Sans', Arial, sans-serif" font-size="24.5" font-weight="bold" text-anchor="end">0</text>
<line x1="1184.20" y1="1292.61" x2="1193.80" y2="1292.61" stroke="#000" stroke-width="2.7" stroke-linecap="butt"/>
<text transform="translate(1180.80,1300.71) scale(0.875,1)" font-family="'Liberation Sans', Arial, sans-serif" font-size="24.5" font-weight="bold" text-anchor="end">50</text>
<line x1="1184.20" y1="1217.22" x2="1193.80" y2="1217.22" stroke="#000" stroke-width="2.7" stroke-linecap="butt"/>
<text transform="translate(1180.80,1225.32) scale(0.875,1)" font-family="'Liberation Sans', Arial, sans-serif" font-size="24.5" font-weight="bold" text-anchor="end">100</text>
<line x1="1184.20" y1="1141.83" x2="1193.80" y2="1141.83" stroke="#000" stroke-width="2.7" stroke-linecap="butt"/>
<text transform="translate(1180.80,1149.93) scale(0.875,1)" font-family="'Liberation Sans', Arial, sans-serif" font-size="24.5" font-weight="bold" text-anchor="end">150</text>
<line x1="1184.20" y1="1066.44" x2="1193.80" y2="1066.44" stroke="#000" stroke-width="2.7" stroke-linecap="butt"/>
<text transform="translate(1180.80,1074.54) scale(0.875,1)" font-family="'Liberation Sans', Arial, sans-serif" font-size="24.5" font-weight="bold" text-anchor="end">200</text>
<line x1="1184.20" y1="991.05" x2="1193.80" y2="991.05" stroke="#000" stroke-width="2.7" stroke-linecap="butt"/>
<text transform="translate(1180.80,999.15) scale(0.875,1)" font-family="'Liberation Sans', Arial, sans-serif" font-size="24.5" font-weight="bold" text-anchor="end">250</text>
<line x1="1184.20" y1="915.66" x2="1193.80" y2="915.66" stroke="#000" stroke-width="2.7" stroke-linecap="butt"/>
<text transform="translate(1180.80,923.76) scale(0.875,1)" font-family="'Liberation Sans', Arial, sans-serif" font-size="24.5" font-weight="bold" text-anchor="end">300</text>
<line x1="1184.20" y1="840.27" x2="1193.80" y2="840.27" stroke="#000" stroke-width="2.7" stroke-linecap="butt"/>
<text transform="translate(1180.80,848.37) scale(0.875,1)" font-family="'Liberation Sans', Arial, sans-serif" font-size="24.5" font-weight="bold" text-anchor="end">350</text>
<line x1="1184.20" y1="764.88" x2="1193.80" y2="764.88" stroke="#000" stroke-width="2.7" stroke-linecap="butt"/>
<text transform="translate(1180.80,772.98) scale(0.875,1)" font-family="'Liberation Sans', Arial, sans-serif" font-size="24.5" font-weight="bold" text-anchor="end">400</text>
<line x1="1306.90" y1="1368.00" x2="1306.90" y2="1378.00" stroke="#000" stroke-width="2.7" stroke-linecap="butt"/>
<line x1="1533.20" y1="1368.00" x2="1533.20" y2="1378.00" stroke="#000" stroke-width="2.7" stroke-linecap="butt"/>
<path d="M1231.6,1368.00 V864.3 H1381.6 V1368.00" fill="none" stroke="#000" stroke-width="4.3" stroke-linejoin="miter"/>
<rect x="1455.30" y="1076.20" width="154.60" height="291.80" fill="#000"/>
<line x1="1267.45" y1="766.70" x2="1345.75" y2="766.70" stroke="#000" stroke-width="2.7" stroke-linecap="butt"/>
<line x1="1306.60" y1="766.70" x2="1306.60" y2="862.50" stroke="#000" stroke-width="2.7" stroke-linecap="butt"/>
<line x1="1493.75" y1="1029.60" x2="1572.05" y2="1029.60" stroke="#000" stroke-width="2.7" stroke-linecap="butt"/>
<line x1="1532.90" y1="1029.60" x2="1532.90" y2="1077.00" stroke="#000" stroke-width="2.7" stroke-linecap="butt"/>
<text x="1306.90" y="1411.30" font-family="'Liberation Sans', Arial, sans-serif" font-size="37.5" font-weight="bold" text-anchor="middle" >PreHD</text>
<text x="1533.40" y="1411.30" font-family="'Liberation Sans', Arial, sans-serif" font-size="37.5" font-weight="bold" text-anchor="middle" >PostHD</text>
<text transform="translate(1118.0,1065.6) rotate(-90)" font-family="'Liberation Sans', Arial, sans-serif" font-size="50" font-weight="bold" text-anchor="middle" textLength="286" lengthAdjust="spacingAndGlyphs">Km (<tspan font-family="'Liberation Serif', 'Times New Roman', serif" font-weight="normal">μ</tspan>mol/L)</text>
<text x="1533.80" y="1033.00" font-family="'Liberation Sans', Arial, sans-serif" font-size="62" font-weight="bold" text-anchor="middle" >*</text>
</svg></body></html>
